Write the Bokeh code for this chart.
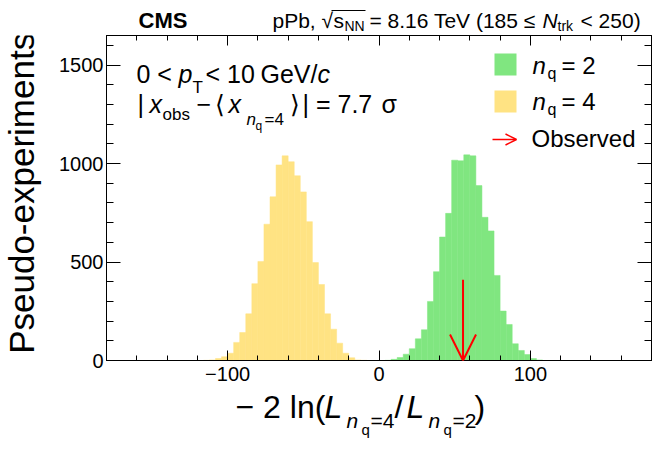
import math
from bokeh.plotting import figure
from bokeh.layouts import column, row
from bokeh.models import (Label, Arrow, OpenHead, BoxAnnotation, LinearAxis, Range1d,
                          SingleIntervalTicker, CustomJSTickFormatter)
from bokeh.embed import file_html
from bokeh.resources import INLINE

# ---------------- data ----------------
bin_width = 4
nq4_first_edge = -116
nq4_counts = [1, 3, 10, 19, 37, 92, 142, 237, 390, 503, 692, 831, 993, 1039,
              1009, 938, 856, 705, 497, 386, 237, 159, 88, 37, 14, 3, 1]
nq2_first_edge = 4
nq2_counts = [1, 6, 15, 32, 60, 110, 156, 300, 451, 627, 747, 1017, 1014, 1044,
              1039, 888, 727, 658, 432, 251, 183, 85, 51, 30, 10, 3]
observed_value = 55.5
observed_arrow_top = 410

x_min, x_max = -180, 180
y_min, y_max = 0, 1650
x_major_step, x_minor_count = 100, 5
y_major_step, y_minor_count = 500, 5

color_nq2 = "#80e680"
color_nq4 = "#ffe383"
font = "Liberation Sans"

PAGE_W, PAGE_H = 664, 450
HEAD_H = 34          # header strip height
LEFT_W = 50          # y-title strip width
MAIN_BOTTOM = 390    # page y where the x-title strip starts

# frame position in page pixels
FL, FR, FT, FB = 106, 651, 35, 360
BASE_K = 0.34        # baseline correction (fraction of font size)


def blank(width, height, x0, x1, y0, y1):
    f = figure(width=width, height=height, x_range=Range1d(x0, x1),
               y_range=Range1d(y1, y0), x_axis_type=None, y_axis_type=None,
               output_backend="svg", toolbar_location=None, min_border=0)
    f.grid.visible = False
    f.outline_line_color = None
    f.background_fill_color = "white"
    f.border_fill_color = "white"
    return f


def put(fig, text, x, y, size, style_="normal", align="left", angle=0.0, color="black"):
    fig.add_layout(Label(x=x, y=y, text=text, text_font=font,
                         text_font_size=f"{size}px", text_font_style=style_,
                         text_align=align, text_baseline="alphabetic",
                         angle=angle, text_color=color))


def put_page(fig, text, X, Y, size, style_="normal"):
    put(fig, text, X, Y - BASE_K * size, size, style_)


# ---------------- main figure ----------------
main_w = PAGE_W - LEFT_W
main_h = MAIN_BOTTOM - HEAD_H
p = figure(width=main_w, height=main_h, x_range=(x_min, x_max), y_range=(y_min, y_max),
           output_backend="svg", toolbar_location=None,
           min_border_left=FL - LEFT_W, min_border_right=PAGE_W - FR,
           min_border_top=FT - HEAD_H, min_border_bottom=MAIN_BOTTOM - FB)
p.grid.visible = False
p.outline_line_color = "black"
p.outline_line_width = 1
p.background_fill_color = "white"
p.border_fill_color = "white"


def dx(X):
    return x_min + (X - FL) / (FR - FL) * (x_max - x_min)


def dy(Y):
    return y_min + (FB - Y) / (FB - FT) * (y_max - y_min)


def edges(first, n):
    return [first + bin_width * i for i in range(n + 1)]


e4 = edges(nq4_first_edge, len(nq4_counts))
e2 = edges(nq2_first_edge, len(nq2_counts))
p.quad(left=e4[:-1], right=e4[1:], bottom=0, top=nq4_counts,
       fill_color=color_nq4, line_color=color_nq4, line_width=0.5)
p.quad(left=e2[:-1], right=e2[1:], bottom=0, top=nq2_counts,
       fill_color=color_nq2, line_color=color_nq2, line_width=0.5)

p.add_layout(Arrow(end=OpenHead(size=26, line_color="red", line_width=2),
                   x_start=observed_value, y_start=observed_arrow_top,
                   x_end=observed_value, y_end=0,
                   line_color="red", line_width=2))

# axes
minus_fmt = CustomJSTickFormatter(code="return tick < 0 ? '\\u2212' + Math.abs(tick) : String(tick);")


def style(ax, major_in, minor_in, size="20px"):
    ax.axis_line_color = "black"
    ax.major_tick_line_color = "black"
    ax.minor_tick_line_color = "black"
    ax.major_tick_in = major_in
    ax.major_tick_out = 0
    ax.minor_tick_in = minor_in
    ax.minor_tick_out = 0
    ax.major_label_text_font = font
    ax.major_label_text_font_size = size
    ax.major_label_text_color = "black"


p.xaxis.ticker = SingleIntervalTicker(interval=x_major_step, num_minor_ticks=x_minor_count)
p.xaxis.formatter = minus_fmt
p.yaxis.ticker = SingleIntervalTicker(interval=y_major_step, num_minor_ticks=y_minor_count)
p.yaxis.formatter = minus_fmt
for ax in p.xaxis:
    style(ax, 10, 5)
    ax.major_label_standoff = 6
for ax in p.yaxis:
    style(ax, 14, 7)
    ax.major_label_standoff = 3

empty_fmt = CustomJSTickFormatter(code="return '';")
top_ax = LinearAxis(ticker=SingleIntervalTicker(interval=x_major_step, num_minor_ticks=x_minor_count),
                    formatter=empty_fmt, major_label_standoff=0)
style(top_ax, 10, 5, "0px")
p.add_layout(top_ax, "above")
right_ax = LinearAxis(ticker=SingleIntervalTicker(interval=y_major_step, num_minor_ticks=y_minor_count),
                      formatter=empty_fmt, major_label_standoff=0)
style(right_ax, 14, 7, "0px")
p.add_layout(right_ax, "right")


def lab(text, X, Y, size, style_="normal"):
    put(p, text, dx(X), dy(Y - BASE_K * size), size, style_)


# inner text
lab("0 <", 136, 82, 25)
lab("p", 178, 82, 25, "italic")
lab("T", 192, 93, 17)
lab("< 10", 205, 82, 25)
lab("GeV/", 260, 82, 25)
lab("c", 317, 82, 25, "italic")

lab("|", 137, 112, 25)
lab("x", 149, 112, 25, "italic")
lab("obs", 162, 120, 17)
lab("\u2212", 196, 112, 25)
lab("\u27e8", 214, 112, 25)
lab("x", 228, 112, 25, "italic")
lab("n", 246, 125, 17, "italic")
lab("q", 255, 130, 12)
lab("=4", 264, 125, 17)
lab("\u27e9", 289, 112, 25)
lab("| = 7.7", 302, 112, 25)
lab("\u03c3", 381, 112, 25)

# legend
p.add_layout(BoxAnnotation(left=dx(494), right=dx(516), top=dy(53), bottom=dy(75),
                           fill_color=color_nq2, fill_alpha=1, line_color=None))
p.add_layout(BoxAnnotation(left=dx(494), right=dx(516), top=dy(90), bottom=dy(112),
                           fill_color=color_nq4, fill_alpha=1, line_color=None))
lab("n", 532, 73, 24, "italic")
lab("q", 547, 78, 16)
lab("= 2", 561, 73, 24)
lab("n", 532, 109, 24, "italic")
lab("q", 547, 114, 16)
lab("= 4", 561, 109, 24)
p.add_layout(Arrow(end=OpenHead(size=11, line_color="red", line_width=1.5),
                   x_start=dx(492), y_start=dy(139), x_end=dx(516), y_end=dy(139),
                   line_color="red", line_width=1.5))
lab("Observed", 531, 146, 24)

# ---------------- header strip ----------------
head = blank(PAGE_W, HEAD_H, 0, PAGE_W, 0, HEAD_H)
put_page(head, "CMS", 138, 27, 22, "bold")
put_page(head, "pPb,", 272, 27, 21)
put_page(head, "\u221a", 321, 27, 21)
head.segment(x0=[331], y0=[10], x1=[365], y1=[10], line_color="black", line_width=1)
put_page(head, "s", 333, 27, 21)
put_page(head, "NN", 344, 30, 14)
put_page(head, "= 8.16 TeV (185 \u2264", 369, 27, 21)
put_page(head, "N", 542, 27, 21, "italic")
put_page(head, "trk", 557, 30, 14)
put_page(head, "< 250)", 580, 27, 21)

# ---------------- y-title strip ----------------
ytl = blank(LEFT_W, main_h, 0, LEFT_W, HEAD_H, MAIN_BOTTOM)
yt_size = 35
put(ytl, "Pseudo-experiments", 33 - BASE_K * yt_size, 195 + BASE_K * yt_size, yt_size,
    align="center", angle=math.pi / 2)

# ---------------- x-title strip ----------------
xtl = blank(PAGE_W, PAGE_H - MAIN_BOTTOM, 0, PAGE_W, MAIN_BOTTOM, PAGE_H)
put_page(xtl, "\u2212 2 ln(", 235, 417, 32)
put_page(xtl, "L", 324, 417, 32, "italic")
put_page(xtl, "n", 346, 427, 21, "italic")
put_page(xtl, "q", 361, 434, 15)
put_page(xtl, "=4", 370, 427, 21)
put_page(xtl, "/", 394, 417, 32)
put_page(xtl, "L", 406, 417, 32, "italic")
put_page(xtl, "n", 428, 427, 21, "italic")
put_page(xtl, "q", 443, 434, 15)
put_page(xtl, "=2", 452, 427, 21)
put_page(xtl, ")", 474, 417, 32)

layout = column(head, row(ytl, p, spacing=0), xtl, spacing=0)
open("out.html", "w").write(file_html(layout, INLINE))
